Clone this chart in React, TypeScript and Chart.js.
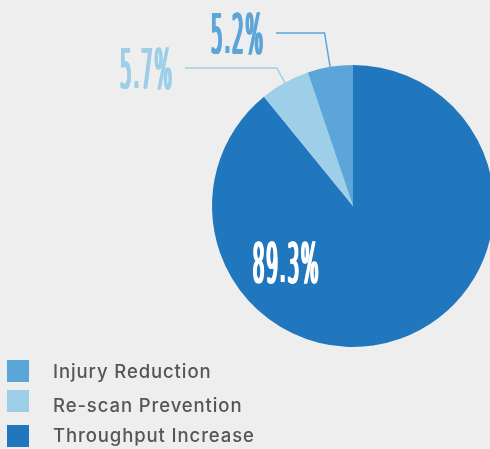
import React, { useEffect, useRef } from "react";
import { Chart, ArcElement, PieController } from "chart.js";

Chart.register(ArcElement, PieController);

// ---- data ----
const categories = ["Throughput Increase", "Re-scan Prevention", "Injury Reduction"];
const values = [89.3, 5.7, 5.2];
const valueLabels = ["89.3%", "5.7%", "5.2%"];
const colors = ["#2077be", "#9ecfe8", "#5ca5d9"];
const legendOrder = [2, 1, 0];

// ---- layout (not data) ----
const CANVAS_W = 500;
const CANVAS_H = 449;
const LABEL_FONT_PX = 55;
const LABEL_SX = 0.37;
const LABEL_BOLDEN = 2;
const labelLayout: Array<{ x: number; cy: number; align: "left" | "right" | "center"; leader: boolean; color?: string }> = [
  { x: 285.5, cy: 262, align: "center", leader: false, color: "#ffffff" },
  { x: 173, cy: 68, align: "right", leader: true },
  { x: 264, cy: 33, align: "right", leader: true },
];
const legendSquareTops = [360, 390, 425];
const legendBaselines = [378.3, 411.7, 441.7];

function drawCondensed(ctx: CanvasRenderingContext2D, text: string, x: number, cy: number, align: string, color: string) {
  ctx.save();
  ctx.font = `${LABEL_FONT_PX}px "DejaVu Sans Condensed", "DejaVu Sans", sans-serif`;
  (ctx as any).letterSpacing = "5px";
  ctx.fillStyle = color;
  ctx.textBaseline = "alphabetic";
  ctx.textAlign = "left";
  const w = (ctx.measureText(text).width - 5) * LABEL_SX + LABEL_BOLDEN;
  const left = align === "right" ? x - w : align === "center" ? x - w / 2 : x;
  const baseline = cy + (LABEL_FONT_PX * 0.729) / 2;
  for (let k = 0; k <= LABEL_BOLDEN * 2; k++) {
    ctx.save();
    ctx.translate(left + k * 0.5, baseline);
    ctx.scale(LABEL_SX, 1);
    ctx.fillText(text, 0, 0);
    ctx.restore();
  }
  ctx.restore();
  return { left, right: left + w };
}

const overlayPlugin = {
  id: "overlay",
  afterDraw(chart: any) {
    const ctx: CanvasRenderingContext2D = chart.ctx;
    const meta = chart.getDatasetMeta(0);
    meta.data.forEach((arc: any, i: number) => {
      const p = arc.getProps(["x", "y", "startAngle", "endAngle", "outerRadius"], true);
      const lay = labelLayout[i];
      const color = lay.color || colors[i];
      const box = drawCondensed(ctx, valueLabels[i], lay.x, lay.cy, lay.align, color);
      if (lay.leader) {
        const mid = (p.startAngle + p.endAngle) / 2;
        const ux = Math.cos(mid);
        const uy = Math.sin(mid);
        const ax = p.x + ux * (p.outerRadius - 1);
        const ay = p.y + uy * (p.outerRadius - 1);
        const t = (ay - lay.cy) / -uy;
        const ex = ax + ux * t;
        const ey = lay.cy;
        ctx.save();
        ctx.strokeStyle = color;
        ctx.lineWidth = 1.5;
        ctx.beginPath();
        ctx.moveTo(box.right + 12, ey);
        ctx.lineTo(ex, ey);
        ctx.lineTo(ax, ay);
        ctx.stroke();
        ctx.restore();
      }
    });

    // legend
    ctx.save();
    ctx.font = '500 18.5px Inter, "Noto Sans", sans-serif';
    (ctx as any).letterSpacing = "0.9px";
    ctx.textBaseline = "alphabetic";
    ctx.textAlign = "left";
    legendOrder.forEach((idx, row) => {
      ctx.fillStyle = colors[idx];
      ctx.fillRect(7, legendSquareTops[row], 22, 22);
      ctx.fillStyle = "#555555";
      ctx.fillText(categories[idx], 53, legendBaselines[row]);
    });
    ctx.restore();
  },
};

export default function App() {
  const ref = useRef<HTMLCanvasElement | null>(null);
  useEffect(() => {
    document.body.style.margin = "0";
    document.body.style.background = "#eeeeee";
    document.body.style.overflow = "hidden";
    const canvas = ref.current!;
    const chart = new Chart(canvas, {
      type: "pie",
      data: {
        labels: categories,
        datasets: [
          {
            data: values,
            backgroundColor: colors,
            borderWidth: 0,
          },
        ],
      },
      options: {
        responsive: false,
        animation: false,
        devicePixelRatio: 1,
        layout: { padding: { left: 212, right: 6, top: 65, bottom: 102 } },
        plugins: { legend: { display: false }, tooltip: { enabled: false } },
      },
      plugins: [overlayPlugin],
    });
    return () => chart.destroy();
  }, []);
  return (
    <div style={{ width: 490, height: 449, overflow: "hidden", background: "#eeeeee", position: "relative" }}>
      <canvas ref={ref} width={CANVAS_W} height={CANVAS_H} style={{ display: "block", width: CANVAS_W, height: CANVAS_H }} />
    </div>
  );
}
